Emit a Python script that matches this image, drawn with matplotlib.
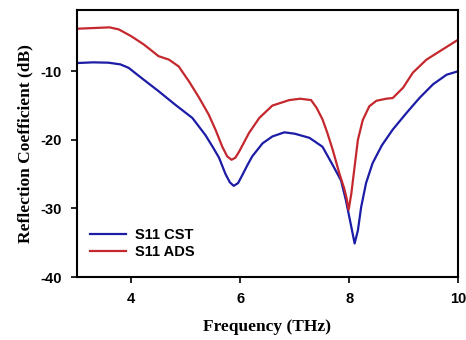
import matplotlib.pyplot as plt

plt.rcParams['axes.unicode_minus'] = False

# S11 CST (blue)
f_cst = [3.0, 3.3, 3.58, 3.8, 3.95, 4.19, 4.5, 4.81, 5.12, 5.36, 5.5, 5.61, 5.73, 5.81, 5.88,
         5.96, 6.04, 6.13, 6.22, 6.41, 6.59, 6.81, 7.0, 7.27, 7.51, 7.7, 7.85, 7.94, 8.04,
         8.1, 8.16, 8.22, 8.31, 8.43, 8.6, 8.8, 9.05, 9.29, 9.54, 9.79, 10.0]
s_cst = [-8.8, -8.7, -8.75, -9.0, -9.5, -11.0, -12.9, -14.9, -16.8, -19.3, -21.1, -22.6, -25.0,
         -26.2, -26.7, -26.3, -25.1, -23.7, -22.4, -20.5, -19.5, -18.9, -19.1, -19.7, -21.0,
         -23.7, -25.9, -28.8, -32.7, -35.1, -33.2, -29.8, -26.3, -23.4, -20.8, -18.5, -16.1,
         -13.9, -11.9, -10.5, -10.0]

# S11 ADS (red)
f_ads = [3.0, 3.3, 3.6, 3.77, 4.0, 4.23, 4.5, 4.69, 4.87, 5.06, 5.24, 5.42, 5.55, 5.67, 5.76,
         5.84, 5.91, 5.98, 6.16, 6.35, 6.59, 6.9, 7.1, 7.3, 7.4, 7.51, 7.6, 7.7, 7.82, 7.91,
         7.95, 7.99, 8.04, 8.1, 8.16, 8.25, 8.37, 8.5, 8.68, 8.8, 8.99, 9.17, 9.42, 9.72, 10.0]
s_ads = [-3.8, -3.7, -3.6, -3.9, -4.9, -6.1, -7.8, -8.3, -9.3, -11.5, -13.8, -16.3, -18.6,
         -21.0, -22.4, -22.9, -22.6, -21.7, -19.0, -16.8, -15.0, -14.2, -14.0, -14.2, -15.3,
         -17.0, -19.0, -21.5, -24.9, -27.1, -28.4, -30.2, -27.8, -23.9, -20.0, -17.1, -15.1,
         -14.3, -14.0, -13.9, -12.4, -10.2, -8.3, -6.8, -5.4]

fig = plt.figure(figsize=(4.66, 3.4), dpi=100)
ax = fig.add_axes([0.165, 0.185, 0.818, 0.787])

ax.plot(f_cst, s_cst, color='#1c1ca6', lw=1.6, label='S11 CST')
ax.plot(f_ads, s_ads, color='#c4282e', lw=1.6, label='S11 ADS')

ax.set_xlim(3, 10)
ax.set_ylim(-40, -1)
ax.set_xticks([4, 6, 8, 10])
ax.set_yticks([-40, -30, -20, -10])

for sp in ax.spines.values():
    sp.set_linewidth(1.5)
ax.tick_params(direction='out', length=4, width=1.2, labelsize=10.5, pad=7)
for lab in ax.get_xticklabels() + ax.get_yticklabels():
    lab.set_fontfamily('Liberation Sans')
    lab.set_fontweight('bold')

ax.set_xlabel('Frequency (THz)', family='Liberation Serif', fontweight='bold', fontsize=12.5, labelpad=9)
ax.set_ylabel('Reflection Coefficient (dB)', family='Liberation Serif', fontweight='bold', fontsize=12.5, labelpad=5)

leg = ax.legend(loc='lower left', bbox_to_anchor=(0.0, 0.02), frameon=False,
                prop={'family': 'Liberation Sans', 'weight': 'bold', 'size': 10.5},
                handlelength=2.5, handletextpad=0.6, labelspacing=0.15)

fig.savefig('out.png', dpi=100)
